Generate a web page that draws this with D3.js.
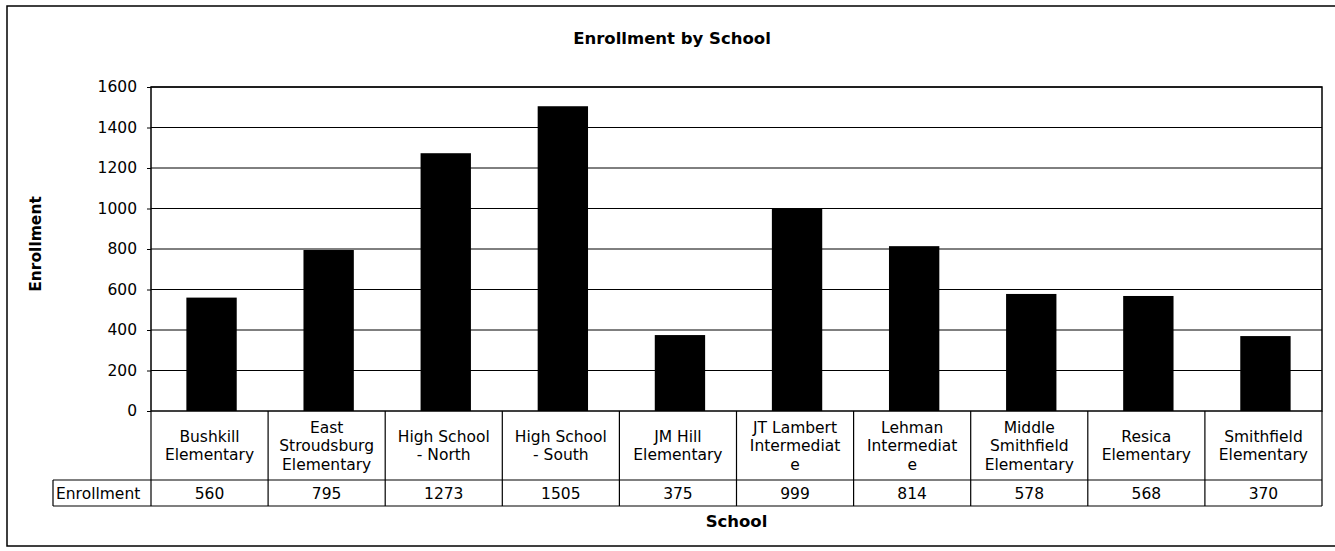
<!DOCTYPE html>
<html lang="en">
<head>
  <meta charset="utf-8" />
  <title>Enrollment by School</title>
  <style>
    body { margin: 0; background: #fff; }
    svg { display: block; font-family: "DejaVu Sans", Verdana, sans-serif; }
  </style>
</head>
<body>
<script src="https://cdn.jsdelivr.net/npm/d3@7/dist/d3.min.js"></script>
<script>
  // data
  var schools = [
    "Bushkill Elementary", "East Stroudsburg Elementary", "High School - North",
    "High School - South", "JM Hill Elementary", "JT Lambert Intermediate",
    "Lehman Intermediate", "Middle Smithfield Elementary", "Resica Elementary",
    "Smithfield Elementary"
  ];
  // how the category labels wrap in the data table
  var labelLines = [
    ["Bushkill", "Elementary"],
    ["East", "Stroudsburg", "Elementary"],
    ["High School", "- North"],
    ["High School", "- South"],
    ["JM Hill", "Elementary"],
    ["JT Lambert", "Intermediat", "e"],
    ["Lehman", "Intermediat", "e"],
    ["Middle", "Smithfield", "Elementary"],
    ["Resica", "Elementary"],
    ["Smithfield", "Elementary"]
  ];
  var enrollment = [560, 795, 1273, 1505, 375, 999, 814, 578, 568, 370];
  var yTicks = [0, 200, 400, 600, 800, 1000, 1200, 1400, 1600];

  const W = 1335, H = 551;
  const plot = {left: 151, right: 1322, top: 87, bottom: 411};
  const rowMid = 480, rowBottom = 506;   // data table rows
  const fs = 15.5;

  var svg = d3.select("body").append("svg")
      .attr("width", W)
      .attr("height", H);

  // outer chart frame (right edge runs off the page)
  svg.append("rect")
      .attr("x", 7).attr("y", 6)
      .attr("width", W + 10).attr("height", 540)
      .attr("fill", "none")
      .attr("stroke", "#000")
      .attr("stroke-width", 1.5);

  let x = d3.scaleBand(schools, [plot.left, plot.right]).padding(0);
  let y = d3.scaleLinear([0, 1600], [plot.bottom, plot.top]);

  // gridlines
  svg.append("g")
      .selectAll("line")
      .data(yTicks.slice(1))
      .join("line")
      .attr("x1", plot.left).attr("x2", plot.right)
      .attr("y1", d => y(d)).attr("y2", d => y(d))
      .attr("stroke", "#000")
      .attr("stroke-width", 1);

  // bars
  const barW = x.bandwidth() * 0.43;
  svg.append("g")
      .selectAll("rect")
      .data(enrollment)
      .join("rect")
      .attr("x", (d, i) => x(schools[i]) + x.bandwidth() / 2 - barW / 2 + 2)
      .attr("y", d => y(d))
      .attr("width", barW)
      .attr("height", d => y(0) - y(d))
      .attr("fill", "#000");

  // y axis
  let yAxisG = svg.append("g")
      .attr("transform", `translate(${plot.left}, 0)`)
      .call(d3.axisLeft(y).tickValues(yTicks).tickSize(4).tickPadding(10).tickFormat(d3.format("d")));
  yAxisG.select(".domain").remove();
  yAxisG.selectAll("text")
      .attr("font-size", fs)
      .attr("font-family", "DejaVu Sans")
      .attr("fill", "#000");
  yAxisG.selectAll("line").attr("stroke", "#000");

  // plot frame
  svg.append("rect")
      .attr("x", plot.left).attr("y", plot.top)
      .attr("width", plot.right - plot.left)
      .attr("height", plot.bottom - plot.top)
      .attr("fill", "none")
      .attr("stroke", "#000")
      .attr("stroke-width", 1.5);

  // data table
  let table = svg.append("g")
      .attr("stroke", "#000")
      .attr("stroke-width", 1.2);
  table.selectAll("line.col")
      .data(schools.concat([null]))
      .join("line")
      .attr("class", "col")
      .attr("x1", d => d === null ? plot.right : x(d))
      .attr("x2", d => d === null ? plot.right : x(d))
      .attr("y1", plot.bottom)
      .attr("y2", rowBottom);
  table.append("line")
      .attr("x1", 53).attr("x2", plot.right)
      .attr("y1", rowMid).attr("y2", rowMid);
  table.append("line")
      .attr("x1", 53).attr("x2", plot.right)
      .attr("y1", rowBottom).attr("y2", rowBottom);
  table.append("line")
      .attr("x1", 53).attr("x2", 53)
      .attr("y1", rowMid).attr("y2", rowBottom);

  const cellMid = (plot.bottom + rowMid) / 2;
  const lh = 18.5;
  let cats = svg.append("g")
      .attr("font-size", fs)
      .attr("text-anchor", "middle")
      .selectAll("text")
      .data(labelLines)
      .join("text")
      .attr("x", (d, i) => x(schools[i]) + x.bandwidth() / 2);
  cats.selectAll("tspan")
      .data(d => d.map((t, j) => ({t: t, j: j, n: d.length})))
      .join("tspan")
      .attr("x", function () { return d3.select(this.parentNode).attr("x"); })
      .attr("y", d => cellMid + 5.5 + (d.j - (d.n - 1) / 2) * lh)
      .text(d => d.t);

  svg.append("g")
      .attr("font-size", fs)
      .attr("text-anchor", "middle")
      .selectAll("text")
      .data(enrollment)
      .join("text")
      .attr("x", (d, i) => x(schools[i]) + x.bandwidth() / 2)
      .attr("y", rowBottom - 7)
      .text(d => d);

  svg.append("text")
      .attr("x", 56).attr("y", rowBottom - 7)
      .attr("font-size", fs)
      .text("Enrollment");

  // titles
  svg.append("text")
      .attr("x", 672).attr("y", 44)
      .attr("text-anchor", "middle")
      .attr("font-size", 16.5)
      .attr("font-weight", "bold")
      .text("Enrollment by School");

  svg.append("text")
      .attr("x", (plot.left + plot.right) / 2).attr("y", 527)
      .attr("text-anchor", "middle")
      .attr("font-size", 16.5)
      .attr("font-weight", "bold")
      .text("School");

  svg.append("text")
      .attr("transform", `translate(41, 244) rotate(-90)`)
      .attr("text-anchor", "middle")
      .attr("font-size", 15.5)
      .attr("font-weight", "bold")
      .text("Enrollment");
</script>
</body>
</html>
